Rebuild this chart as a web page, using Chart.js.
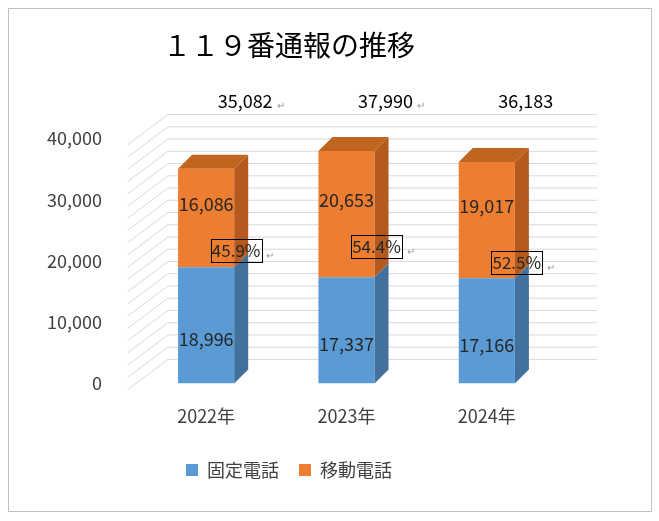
<!DOCTYPE html>
<html><head><meta charset="utf-8">
<script src="https://cdn.jsdelivr.net/npm/chart.js@4"></script>
<style>
body { margin: 0; background: #fff; }
#wrap { position: absolute; left: 8px; top: 8px; width: 644px; height: 504px; border: 1px solid #bfbfbf; box-sizing: border-box; }
</style></head>
<body>
<div id="wrap"><canvas id="c" width="644" height="504"></canvas></div>
<script>
// --- data ---
const years = ['2022年', '2023年', '2024年'];
const fixedLine = [18996, 17337, 17166];
const mobile = [16086, 20653, 19017];
const totals = [35082, 37990, 36183];
const mobileShare = ['45.9%', '54.4%', '52.5%'];

const FONT = '"Noto Sans CJK JP", "Noto Sans", sans-serif';
const DX = 14, DY = -14;

function fmt(n) { return n.toLocaleString('en-US'); }

/* back wall grid, slanted floor lines */
const gridPlugin = {
  id: 'grid3d',
  beforeDatasetsDraw(chart) {
    const { ctx, chartArea, scales: { y } } = chart;
    ctx.save();
    ctx.strokeStyle = '#d9d9d9';
    ctx.lineWidth = 1;
    for (let v = 0; v <= 40000; v += 2000) {
      const py = y.getPixelForValue(v);
      ctx.beginPath();
      ctx.moveTo(chartArea.left - 8, py + 6);
      ctx.lineTo(chartArea.left + 32, py - 24);
      ctx.lineTo(chartArea.right + 40, py - 24);
      ctx.stroke();
    }
    ctx.restore();
  }
};

/* side and top faces of the bars */
const depthPlugin = {
  id: 'depth',
  afterDatasetsDraw(chart) {
    const ctx = chart.ctx;
    const sides = ['#41719c', '#b55a1f'];
    ctx.save();
    chart.data.datasets.forEach((ds, di) => {
      chart.getDatasetMeta(di).data.forEach(bar => {
        const r = bar.x + bar.width / 2, l = bar.x - bar.width / 2;
        ctx.fillStyle = sides[di];
        ctx.beginPath();
        ctx.moveTo(r, bar.y); ctx.lineTo(r + DX, bar.y + DY);
        ctx.lineTo(r + DX, bar.base + DY); ctx.lineTo(r, bar.base);
        ctx.closePath(); ctx.fill();
        if (di === 1) {
          ctx.fillStyle = '#c0651f';
          ctx.beginPath();
          ctx.moveTo(l, bar.y); ctx.lineTo(l + DX, bar.y + DY);
          ctx.lineTo(r + DX, bar.y + DY); ctx.lineTo(r, bar.y);
          ctx.closePath(); ctx.fill();
        }
      });
    });
    ctx.restore();
  }
};

/* value labels, totals, share boxes */
const labelPlugin = {
  id: 'labels',
  afterDraw(chart) {
    const ctx = chart.ctx;
    ctx.save();
    ctx.font = '18px ' + FONT;
    ctx.fillStyle = '#262626';
    ctx.textBaseline = 'middle';
    ctx.textAlign = 'center';
    chart.data.datasets.forEach((ds, di) => {
      chart.getDatasetMeta(di).data.forEach((bar, i) => {
        const mid = (bar.y + bar.base) / 2;
        ctx.fillText(fmt(ds.data[i]), bar.x, di === 0 ? mid + 14 : mid - 14);
      });
    });
    const bars = chart.getDatasetMeta(1).data;
    bars.forEach((bar, i) => {
      ctx.fillStyle = '#000';
      ctx.font = '18px ' + FONT;
      ctx.textAlign = 'center';
      const tx = bar.x + 39;
      ctx.fillText(fmt(totals[i]), tx, 92);
      const tw = ctx.measureText(fmt(totals[i])).width;
      ctx.fillStyle = '#999';
      ctx.font = '10px ' + FONT;
      if (i < 2) ctx.fillText('↵', tx + tw / 2 + 8, 96);
      // share box
      ctx.font = '17px ' + FONT;
      const py = [242, 238, 254][i];
      const px = bar.x + 30;
      const pw = ctx.measureText(mobileShare[i]).width;
      ctx.fillStyle = '#262626';
      ctx.fillText(mobileShare[i], px, py);
      ctx.strokeStyle = '#000';
      ctx.lineWidth = 1;
      ctx.strokeRect(Math.round(px - pw / 2 - 1) + 0.5, py - 11.5, Math.round(pw + 2), 23);
      ctx.fillStyle = '#999';
      ctx.font = '10px ' + FONT;
      ctx.fillText('↵', px + pw / 2 + 10, py + 4);
    });
    ctx.restore();
  }
};

new Chart(document.getElementById('c'), {
  type: 'bar',
  data: {
    labels: years,
    datasets: [
      { label: '固定電話', data: fixedLine, backgroundColor: '#5b9bd5' },
      { label: '移動電話', data: mobile, backgroundColor: '#ed7d31' }
    ]
  },
  options: {
    responsive: false,
    animation: false,
    layout: { padding: { left: 12, right: 96, top: 0, bottom: 24 } },
    datasets: { bar: { barPercentage: 0.4, categoryPercentage: 1 } },
    plugins: {
      title: {
        display: true, text: '１１９番通報の推移', color: '#000',
        font: { family: FONT, size: 28, weight: 'normal' },
        padding: { top: 20, bottom: 76 }
      },
      legend: {
        position: 'bottom',
        labels: { boxWidth: 12, boxHeight: 12, color: '#404040', padding: 20, font: { family: FONT, size: 18 } }
      },
      tooltip: { enabled: false }
    },
    scales: {
      x: {
        stacked: true,
        grid: { display: false },
        border: { display: false },
        ticks: { color: '#404040', font: { family: FONT, size: 18 }, padding: 14 }
      },
      y: {
        stacked: true, min: 0, max: 40000,
        grid: { display: false },
        border: { display: false },
        ticks: { stepSize: 10000, color: '#404040', padding: 26, font: { family: FONT, size: 18 },
          callback: v => fmt(v) }
      }
    }
  },
  plugins: [gridPlugin, depthPlugin, labelPlugin]
});
</script>
</body></html>
